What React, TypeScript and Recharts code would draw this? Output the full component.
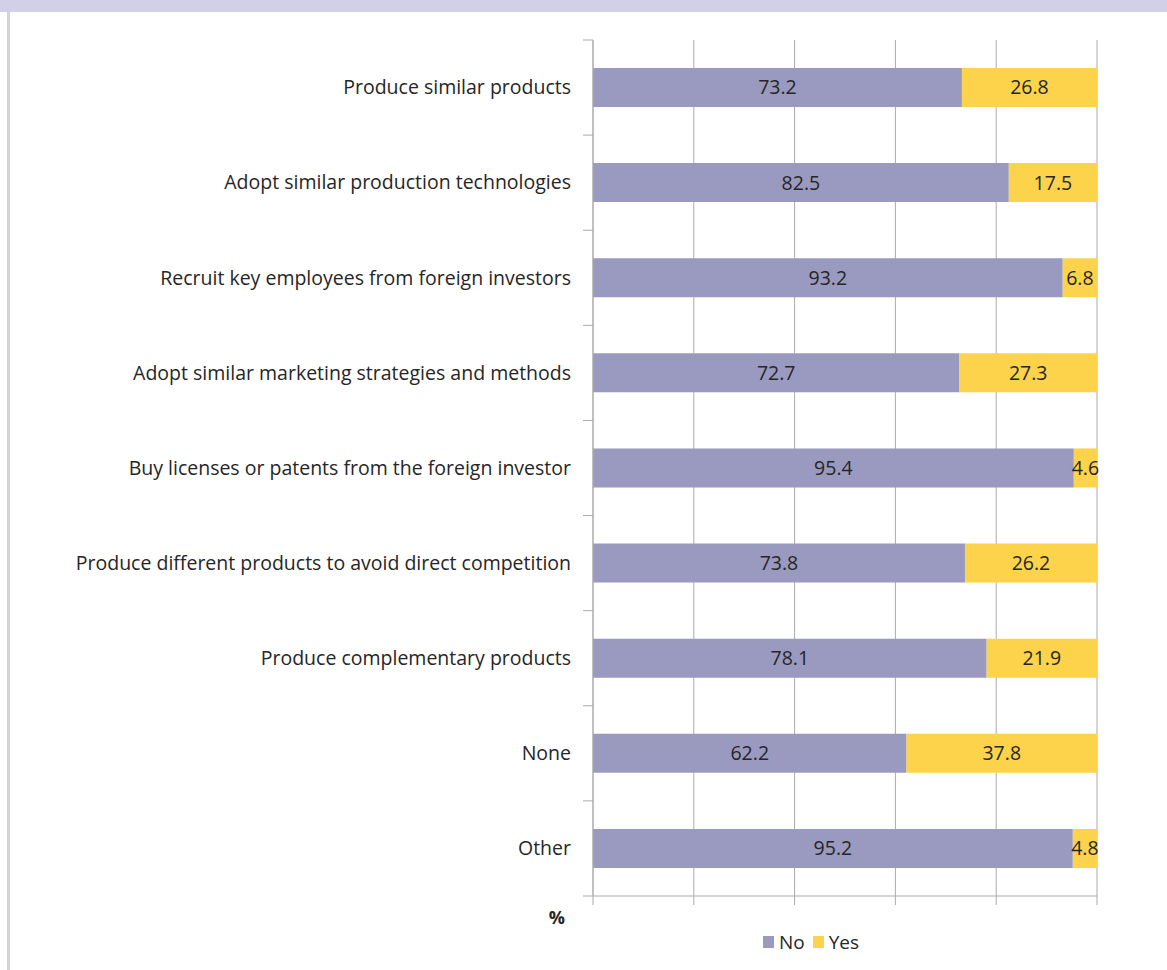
import { Bar, BarChart, CartesianGrid, LabelList, XAxis, YAxis } from "recharts"

const categories = [
  "Produce similar products",
  "Adopt similar production technologies",
  "Recruit key employees from foreign investors",
  "Adopt similar marketing strategies and methods",
  "Buy licenses or patents from the foreign investor",
  "Produce different products to avoid direct competition",
  "Produce complementary products",
  "None",
  "Other",
]
const noValues = [73.2, 82.5, 93.2, 72.7, 95.4, 73.8, 78.1, 62.2, 95.2]
const yesValues = [26.8, 17.5, 6.8, 27.3, 4.6, 26.2, 21.9, 37.8, 4.8]
const xTicks = [0, 20, 40, 60, 80, 100]

const series = [
  { key: "no", name: "No", color: "#9a99bf" },
  { key: "yes", name: "Yes", color: "#fcd34b" },
]

const data = categories.map((name, i) => ({ name, no: noValues[i], yes: yesValues[i] }))

const FONT = "'Open Sans', sans-serif"
const TEXT = "#262626"
const AXIS = "#ababab"
const W = 1167
const H = 970
const TOP = 40
const PLOT_LEFT = 593
const PLOT_BOTTOM = 896
const BAND = (PLOT_BOTTOM - TOP) / categories.length
const FS = 19.5

function CategoryTick(props: any) {
  const { y, payload, index } = props
  return (
    <g>
      <line x1={PLOT_LEFT - 10} x2={PLOT_LEFT} y1={y - BAND / 2} y2={y - BAND / 2} stroke={AXIS} />
      {index === categories.length - 1 && (
        <line x1={PLOT_LEFT - 10} x2={PLOT_LEFT} y1={y + BAND / 2} y2={y + BAND / 2} stroke={AXIS} />
      )}
      <text x={PLOT_LEFT - 22} y={y} dy="0.35em" textAnchor="end" fontSize={FS} fill={TEXT} fontFamily={FONT}>
        {payload.value}
      </text>
    </g>
  )
}

export default function App() {
  return (
    <div style={{ position: "absolute", left: 0, top: 0, width: W, height: H, background: "#fff", fontFamily: FONT }}>
      <div style={{ position: "absolute", left: 0, top: 0, width: W, height: 12, background: "#d1d0e8" }} />
      <div style={{ position: "absolute", left: 7, top: 12, width: 3, height: H - 12, background: "#d1d0e8" }} />
      <BarChart
        width={W}
        height={H}
        data={data}
        layout="vertical"
        margin={{ top: TOP, right: W - 1097, left: 0, bottom: 30 }}
        barSize={39}
      >
        <CartesianGrid horizontal={false} stroke={AXIS} />
        <XAxis
          type="number"
          domain={[0, 100]}
          ticks={xTicks}
          tickFormatter={() => ""}
          tickSize={9}
          stroke={AXIS}
          height={44}
          label={{ value: "%", position: "left", offset: 28, fill: TEXT, fontSize: 18, fontWeight: "bold", fontFamily: FONT }}
        />
        <YAxis
          type="category"
          dataKey="name"
          width={PLOT_LEFT}
          tick={<CategoryTick />}
          tickLine={false}
          stroke={AXIS}
          interval={0}
        />
        {series.map((s) => (
          <Bar key={s.key} dataKey={s.key} name={s.name} stackId="a" fill={s.color} isAnimationActive={false}>
            <LabelList dataKey={s.key} position="center" fill={TEXT} fontSize={FS} fontFamily={FONT} />
          </Bar>
        ))}
      </BarChart>
      <div
        style={{
          position: "absolute",
          top: 929,
          left: 763,
          display: "flex",
          alignItems: "center",
          fontSize: 19,
          color: TEXT,
          fontFamily: FONT,
        }}
      >
        {series.map((s) => (
          <div key={s.key} style={{ display: "flex", alignItems: "center", marginRight: 8 }}>
            <span style={{ display: "inline-block", width: 11, height: 12, background: s.color, marginRight: 5 }} />
            <span>{s.name}</span>
          </div>
        ))}
      </div>
    </div>
  )
}
